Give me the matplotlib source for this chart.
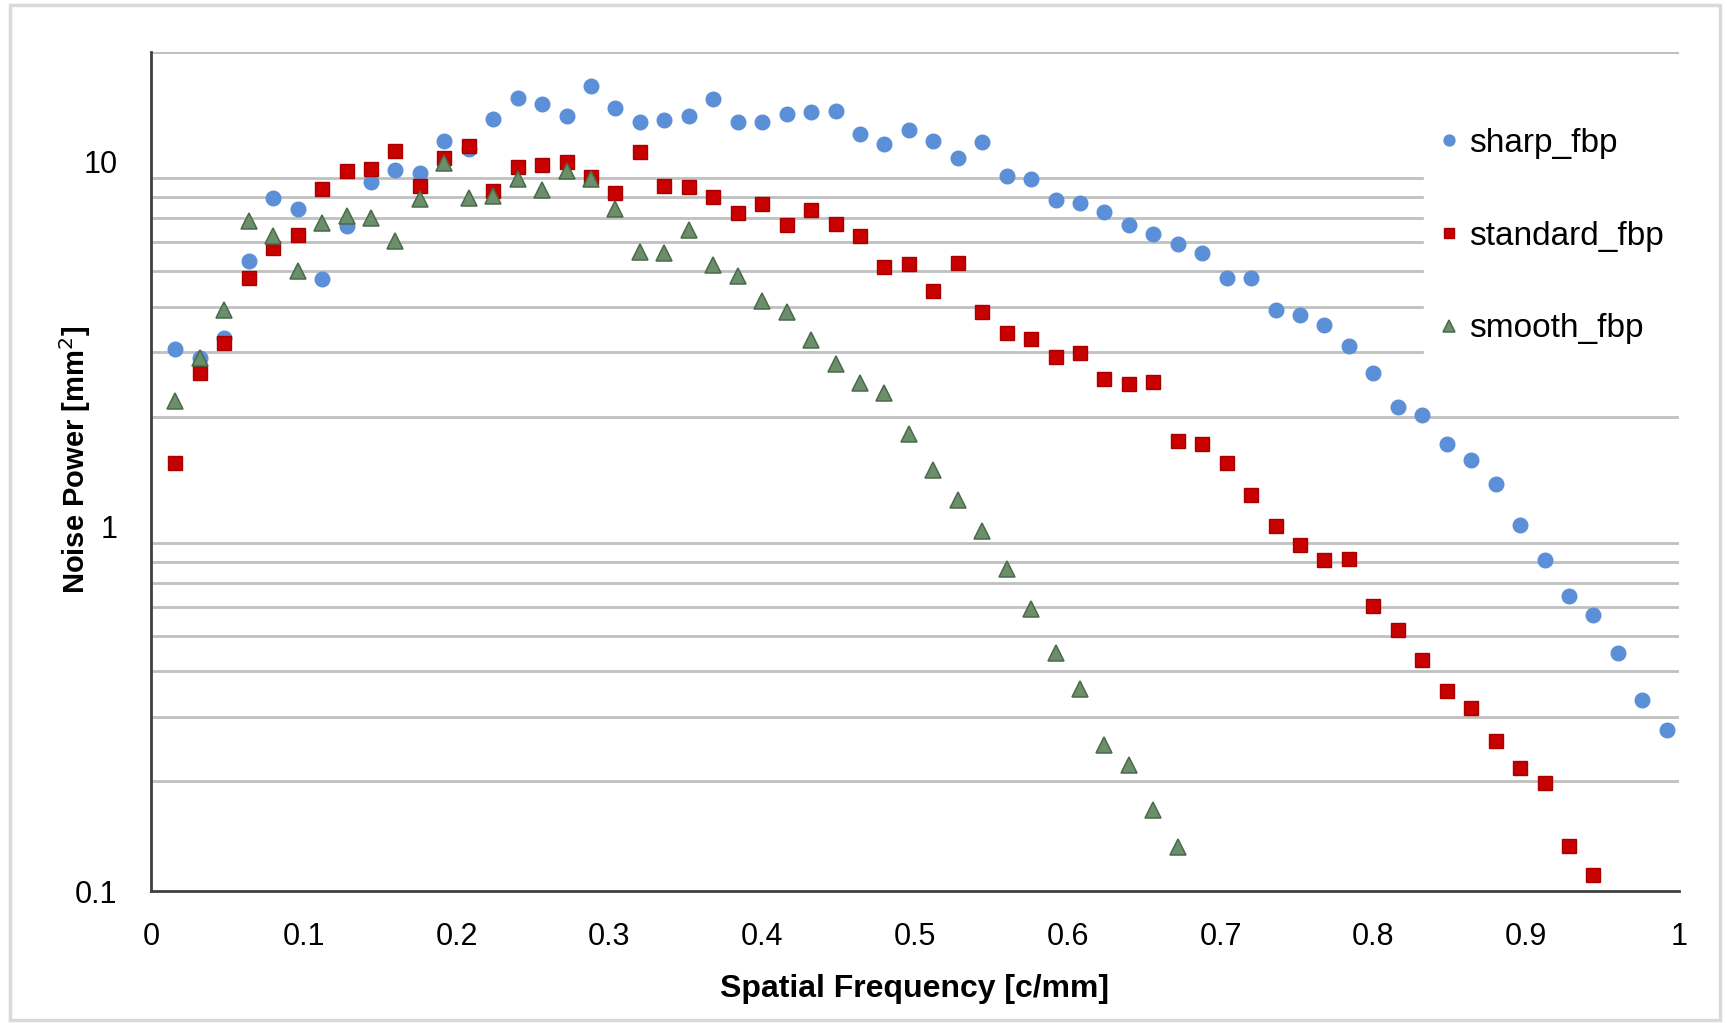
import matplotlib
matplotlib.use("Agg")
from matplotlib import pyplot as plt
from matplotlib import font_manager
from matplotlib.patches import Rectangle

# spatial frequency bins [c/mm]
freq = [0.016, 0.032, 0.048, 0.064, 0.080, 0.096, 0.112, 0.128, 0.144, 0.160,
        0.176, 0.192, 0.208, 0.224, 0.240, 0.256, 0.272, 0.288, 0.304, 0.320,
        0.336, 0.352, 0.368, 0.384, 0.400, 0.416, 0.432, 0.448, 0.464, 0.480,
        0.496, 0.512, 0.528, 0.544, 0.560, 0.576, 0.592, 0.608, 0.624, 0.640,
        0.656, 0.672, 0.688, 0.704, 0.720, 0.736, 0.752, 0.768, 0.784, 0.800,
        0.816, 0.832, 0.848, 0.864, 0.880, 0.896, 0.912, 0.928, 0.944, 0.960,
        0.976, 0.992]

sharp_fbp = [3.06, 2.9, 3.28, 5.35, 7.95, 7.43, 4.77, 6.65, 8.81, 9.51,
             9.33, 11.4, 10.8, 13.1, 14.9, 14.4, 13.3, 16.1, 14.0, 12.8,
             13.0, 13.3, 14.8, 12.8, 12.8, 13.5, 13.7, 13.8, 11.9, 11.2,
             12.2, 11.4, 10.2, 11.3, 9.11, 8.96, 7.87, 7.69, 7.26, 6.72,
             6.33, 5.95, 5.62, 4.80, 4.78, 3.93, 3.80, 3.56, 3.12, 2.63,
             2.13, 2.02, 1.68, 1.52, 1.31, 1.01, 0.81, 0.642, 0.57, 0.448,
             0.333, 0.277]

standard_fbp = [1.49, 2.63, 3.18, 4.79, 5.80, 6.30, 8.41, 9.45, 9.57, 10.7,
                8.56, 10.2, 11.0, 8.33, 9.67, 9.77, 9.96, 9.08, 8.20, 10.6,
                8.56, 8.51, 8.00, 7.23, 7.67, 6.68, 7.38, 6.75, 6.24, 5.14,
                5.24, 4.43, 5.27, 3.86, 3.39, 3.27, 2.92, 2.99, 2.54, 2.45,
                2.48, 1.71, 1.68, 1.49, 1.22, 0.999, 0.891, 0.806, 0.813, 0.603,
                0.518, 0.429, 0.354, 0.317, 0.258, 0.218, 0.198, 0.133, 0.111]

smooth_fbp = [2.20, 2.90, 3.93, 6.86, 6.24, 5.00, 6.79, 7.08, 7.01, 6.05,
              7.90, 9.92, 7.95, 8.03, 8.96, 8.35, 9.41, 8.93, 7.42, 5.66,
              5.60, 6.51, 5.22, 4.87, 4.14, 3.87, 3.24, 2.79, 2.47, 2.32,
              1.79, 1.43, 1.18, 0.968, 0.765, 0.594, 0.449, 0.358, 0.251, 0.222,
              0.167, 0.132]

y_ticks = [0.1, 1, 10]
y_ticklabels = ["0.1", "1", "10"]
x_ticks = [0, 0.1, 0.2, 0.3, 0.4, 0.5, 0.6, 0.7, 0.8, 0.9, 1]
x_ticklabels = ["0", "0.1", "0.2", "0.3", "0.4", "0.5", "0.6", "0.7", "0.8", "0.9", "1"]


def pick_font(names):
    for n in names:
        try:
            font_manager.findfont(font_manager.FontProperties(family=n), fallback_to_default=False)
            return n
        except Exception:
            pass
    return "DejaVu Sans"


narrow = pick_font(["Liberation Sans Narrow", "Liberation Sans", "DejaVu Sans"])
regular = pick_font(["Liberation Sans", "DejaVu Sans"])

fig = plt.figure(figsize=(17.27, 10.23), dpi=100)
ax = fig.add_axes([0.0874, 0.129, 0.8848, 0.8204])

# outer chart border
fig.patches.append(Rectangle((0.006, 0.003), 0.99, 0.992, transform=fig.transFigure,
                             fill=False, edgecolor="#d9d9d9", linewidth=2.5))

ax.plot(freq[:len(sharp_fbp)], sharp_fbp, linestyle="none", marker="o", markersize=10.5,
        color="#5b8fd8", markeredgecolor="#5b8fd8", label="sharp_fbp", zorder=3)
ax.plot(freq[:len(standard_fbp)], standard_fbp, linestyle="none", marker="s", markersize=10,
        color="#c80000", markeredgecolor="#a80000", label="standard_fbp", zorder=4)
ax.plot(freq[:len(smooth_fbp)], smooth_fbp, linestyle="none", marker="^", markersize=11,
        color="#6b8e6b", markeredgecolor="#4a6a4a", markeredgewidth=1.1, label="smooth_fbp", zorder=5)

ax.set_yscale("log")
ax.set_ylim(0.1, 20)
ax.set_xlim(0, 1)

# Excel-style: only the minor gridlines are drawn
minor = [m * d for d in (0.1, 1, 10) for m in range(2, 10)] + [20]
for v in minor:
    ax.axhline(v, color="#c0c0c0", linewidth=2, zorder=1)

ax.set_yticks(y_ticks)
ax.set_yticklabels(y_ticklabels)
ax.yaxis.set_minor_locator(matplotlib.ticker.NullLocator())
ax.set_xticks(x_ticks)
ax.set_xticklabels(x_ticklabels)
ax.tick_params(axis="both", length=0, labelsize=22, pad=22)
ax.tick_params(axis="y", pad=24)
for lab in ax.get_xticklabels() + ax.get_yticklabels():
    lab.set_family(narrow)

for s in ["top", "right"]:
    ax.spines[s].set_visible(False)
for s in ["left", "bottom"]:
    ax.spines[s].set_color("#404040")
    ax.spines[s].set_linewidth(2)

ax.set_xlabel("Spatial Frequency [c/mm]", fontsize=23, fontweight="bold", family=narrow, labelpad=16)
ax.set_ylabel("Noise Power [mm$^2$]", fontsize=21, fontweight="bold", family=narrow)
ax.yaxis.set_label_coords(-0.038, 0.514)

leg = ax.legend(loc="upper left", bbox_to_anchor=(0.833, 0.927), borderaxespad=0,
                frameon=True, fancybox=False, edgecolor="white", facecolor="white",
                framealpha=1, labelspacing=1.85, handlelength=0.6, handletextpad=0.3,
                markerscale=0.75, borderpad=0.45, prop={"family": regular, "size": 24})
leg.set_zorder(6)

fig.savefig("out.png", dpi=100)
